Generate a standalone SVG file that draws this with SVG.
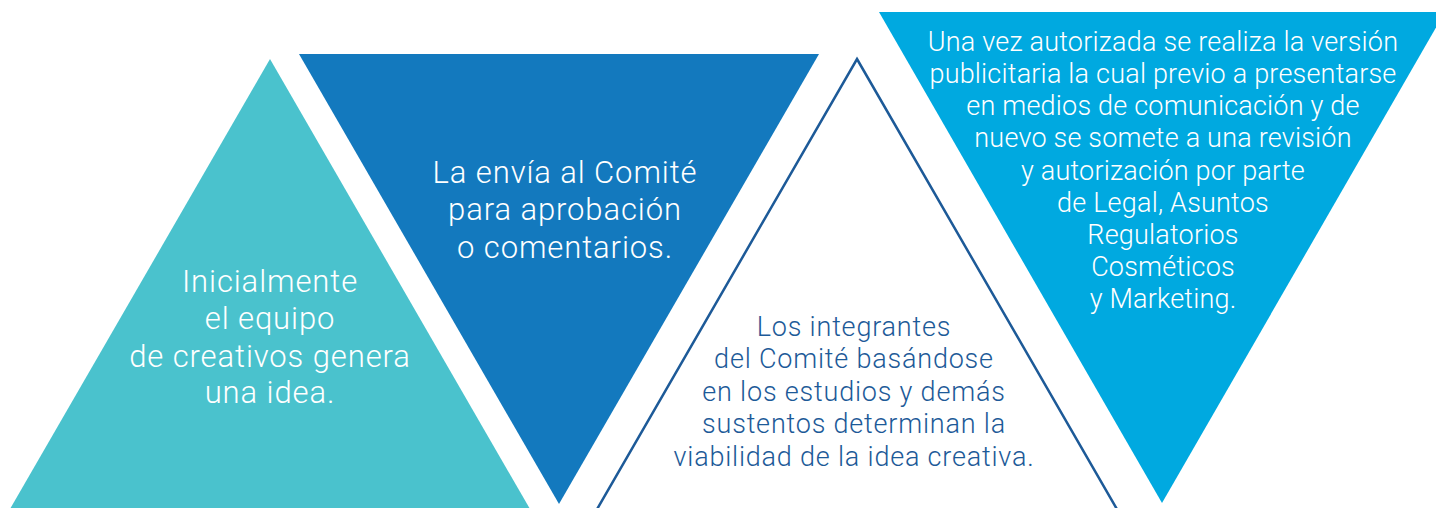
<svg xmlns="http://www.w3.org/2000/svg" width="1436" height="508" viewBox="0 0 1436 508">
<style>
text{font-family:Roboto,"Liberation Sans",sans-serif;font-weight:300;text-anchor:middle}
.w{fill:#ffffff}
.big{font-size:31px;letter-spacing:0.9px}
.sm{font-size:27px;letter-spacing:0.2px}
.md{font-size:27px;letter-spacing:0.8px}
.navy{fill:#1D5A98}
</style>
<rect width="1436" height="508" fill="#ffffff"/>
<g id="node-1">
<polygon points="270,59 530,509 10,509" fill="#4AC2CD"/>
<text class="w big" x="270" y="292">Inicialmente</text>
<text class="w big" x="270" y="329">el equipo</text>
<text class="w big" x="270" y="367">de creativos genera</text>
<text class="w big" x="270" y="403">una idea.</text>
</g>
<g id="node-2">
<polygon points="299,54 819,54 559,504" fill="#1379BE"/>
<text class="w big" x="565" y="183">La envía al Comité</text>
<text class="w big" x="565" y="220">para aprobación</text>
<text class="w big" x="565" y="258">o comentarios.</text>
</g>
<g id="node-3">
<polygon points="857,59 1118,511 596,511" fill="none" stroke="#1D5A98" stroke-width="2.5"/>
<text class="navy md" x="854" y="336">Los integrantes</text>
<text class="navy md" x="854" y="368">del Comité basándose</text>
<text class="navy md" x="854" y="401">en los estudios y demás</text>
<text class="navy md" x="854" y="433">sustentos determinan la</text>
<text class="navy md" x="854" y="466">viabilidad de la idea creativa.</text>
</g>
<g id="node-4">
<polygon points="879,12 1445,12 1162,503" fill="#00A9E0"/>
<text class="w sm" x="1163" y="51">Una vez autorizada se realiza la versión</text>
<text class="w sm" x="1163" y="83">publicitaria la cual previo a presentarse</text>
<text class="w sm" x="1163" y="115">en medios de comunicación y de</text>
<text class="w sm" x="1163" y="147">nuevo se somete a una revisión</text>
<text class="w sm" x="1163" y="180">y autorización por parte</text>
<text class="w sm" x="1163" y="212">de Legal, Asuntos</text>
<text class="w sm" x="1163" y="244">Regulatorios</text>
<text class="w sm" x="1163" y="276">Cosméticos</text>
<text class="w sm" x="1163" y="308">y Marketing.</text>
</g>
<g id="connectors"></g>
</svg>
